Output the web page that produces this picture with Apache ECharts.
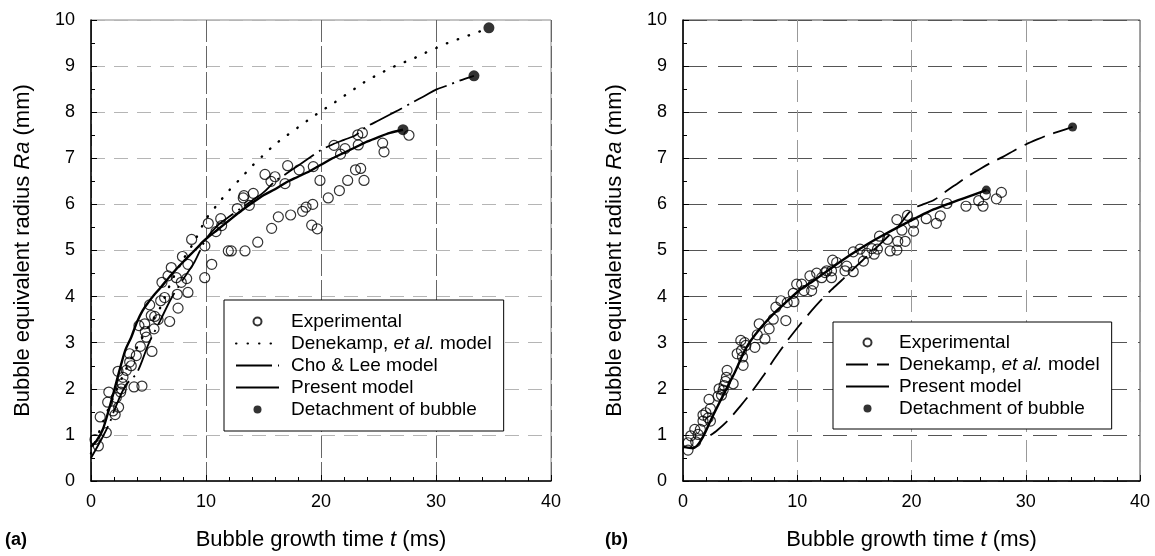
<!DOCTYPE html>
<html>
<head>
<meta charset="utf-8">
<script src="https://cdn.jsdelivr.net/npm/echarts@6/dist/echarts.min.js"></script>
<style>
  html, body { margin:0; padding:0; background:#fff; }
  #wrap { position:relative; width:1155px; height:556px; }
  #ca { position:absolute; left:0; top:0; width:577px; height:556px; }
  #cb { position:absolute; left:577px; top:0; width:578px; height:556px; }
</style>
</head>
<body>
<div id="wrap"><div id="ca"></div><div id="cb"></div></div>
<script>
// ---------------- DATA ----------------
var xTicks = [0, 10, 20, 30, 40];
var yTicks = [0, 1, 2, 3, 4, 5, 6, 7, 8, 9, 10];

// Panel (a)
var expA = [[0.35,0.9],[0.64,0.76],[1.33,1.05],[0.8,1.39],[1.45,1.71],[1.55,1.93],[1.91,1.52],[2.1,1.44],[2.2,1.81],[2.4,1.6],
  [2.35,2.38],[2.58,1.93],[2.64,2.0],[2.72,2.11],[2.78,2.25],[3.07,2.4],[3.36,2.58],[3.5,2.5],[3.36,2.76],[3.94,2.72],
  [4.29,2.92],[3.74,2.04],[4.43,2.06],[4.17,3.37],[4.67,3.41],[4.72,3.24],[4.81,3.12],[5.3,2.81],[5.1,3.82],[5.24,3.59],
  [5.54,3.57],[5.48,3.3],[5.83,3.5],[6.06,3.91],[6.4,3.98],[6.84,3.46],[6.17,4.31],[6.7,4.45],[6.98,4.63],[7.42,4.41],
  [7.5,4.05],[7.57,3.75],[7.85,4.31],[8.32,4.39],[8.43,4.09],[7.95,4.87],[8.43,4.7],[8.75,5.24],[9.89,4.41],[10.5,4.7],
  [9.9,5.1],[10.2,5.59],[10.87,5.41],[11.28,5.69],[11.36,5.54],[11.94,4.99],[12.2,4.99],[13.39,4.99],[12.72,5.91],[13.24,6.14],
  [13.3,6.19],[13.77,5.98],[14.11,6.24],[14.5,5.18],[15.13,6.65],[15.65,6.5],[16.0,6.6],[15.71,5.48],[16.29,5.73],[16.87,6.45],
  [17.1,6.84],[17.36,5.77],[18.1,6.75],[18.4,5.85],[18.7,5.94],[19.28,6.0],[19.33,6.82],[19.19,5.55],[19.68,5.47],[19.91,6.52],
  [20.63,6.14],[21.13,7.28],[21.6,6.3],[22.09,7.21],[21.7,7.09],[22.32,6.52],[23.0,6.75],[23.45,6.78],[23.24,7.29],[23.2,7.51],
  [23.6,7.55],[23.74,6.52],[25.36,7.33],[25.48,7.14],[27.65,7.5]];
var denekampA = [[0,0.6],[1,1.25],[2,1.85],[3,2.4],[4,2.9],[5,3.35],[6,3.75],[7,4.33],[8,4.8],[9,5.2],[10,5.68],[11,6.0],
  [12,6.3],[13,6.56],[14,6.83],[15,7.07],[16,7.3],[17,7.49],[18,7.67],[19,7.85],[20,8.02],[21,8.18],[22,8.35],[23,8.52],
  [24,8.69],[25,8.82],[26,8.95],[27,9.06],[28,9.16],[29,9.28],[30,9.39],[31,9.5],[32,9.59],[33,9.68],[34,9.77],[34.6,9.83]];
var choLeeA = [[0,0.5],[1,0.95],[1.65,1.28],[2,1.52],[3,2.07],[4,2.35],[5,2.97],[6,3.47],[7,3.97],[8,4.37],[9,4.75],[10,5.25],
  [11,5.54],[12,5.73],[13,5.91],[14,6.08],[15,6.26],[16,6.5],[17,6.67],[18,6.84],[19,7.01],[20,7.18],[21,7.3],[22,7.4],
  [23,7.5],[24,7.69],[25,7.82],[26,7.95],[27,8.08],[28,8.22],[29,8.35],[30,8.49],[31,8.58],[32,8.68],[33.3,8.79]];
var presentA = [[0,0.74],[0.5,0.88],[1,1.1],[1.5,1.5],[2,1.95],[2.5,2.42],[3,2.85],[3.5,3.12],[4,3.45],[4.5,3.7],[5,3.88],
  [5.5,4.04],[6,4.18],[7,4.48],[8,4.75],[9,5.0],[10,5.25],[11,5.45],[12,5.65],[13,5.85],[14,6.03],[15,6.2],[16,6.33],
  [17,6.48],[18,6.6],[19,6.72],[20,6.86],[21,7.0],[22,7.12],[23,7.24],[24,7.36],[25,7.46],[26,7.55],[27.13,7.62]];
var detachA = [[27.13,7.62],[33.3,8.79],[34.6,9.83]];

// Panel (b)
var expB = [[0.44,0.67],[0.44,0.83],[0.68,0.98],[1.11,0.85],[1.03,1.12],[1.32,1.01],[1.52,1.12],[1.75,1.3],[1.75,1.43],[2.0,1.48],
  [2.2,1.37],[2.28,1.77],[2.4,1.57],[2.4,1.3],[3.07,1.84],[3.16,2.0],[3.37,1.86],[3.51,1.97],[3.6,2.07],[3.72,2.16],
  [3.8,2.25],[3.86,2.4],[4.39,2.11],[4.74,2.76],[5.12,2.83],[5.06,3.05],[5.21,2.69],[5.26,2.51],[5.5,2.94],[5.4,3.0],
  [6.29,2.9],[6.5,3.17],[6.67,3.41],[7.17,3.08],[7.54,3.3],[7.9,3.51],[8.13,3.77],[8.57,3.91],[9.0,3.48],[9.12,3.87],
  [9.71,3.89],[9.65,4.07],[9.95,4.27],[10.39,4.27],[10.59,4.13],[11.11,4.45],[11.26,4.13],[11.4,4.27],[11.7,4.51],[12.14,4.41],
  [12.43,4.52],[12.58,4.56],[13.0,4.41],[13.0,4.56],[13.1,4.79],[13.45,4.74],[14.18,4.56],[14.33,4.66],[14.9,4.54],[14.9,4.97],
  [15.5,5.03],[15.79,4.77],[16.09,4.94],[16.53,5.04],[16.73,4.92],[17.02,5.03],[17.2,5.31],[17.9,5.24],[18.13,4.99],[18.72,5.01],
  [18.8,5.2],[19.45,5.2],[19.16,5.44],[18.72,5.67],[19.65,5.76],[20.18,5.6],[20.18,5.42],[21.29,5.69],[22.17,5.59],[22.52,5.75],
  [23.1,6.02],[24.77,5.96],[25.88,6.08],[26.26,5.96],[26.46,6.21],[27.43,6.12],[27.87,6.26]];
var denekampB = [[2.4,0.99],[3,1.1],[4,1.33],[5,1.62],[6,1.93],[7,2.27],[8,2.65],[9,3.0],[10,3.32],[11,3.62],[12,3.9],
  [13,4.15],[14,4.38],[15,4.62],[16,4.85],[17,5.08],[18,5.32],[19,5.57],[19.7,5.8],[20.3,5.93],[21,6.0],[22,6.1],[23,6.28],
  [24,6.45],[25,6.62],[26,6.77],[27,6.91],[28,7.03],[29,7.17],[30,7.3],[31,7.41],[32,7.51],[33,7.59],[34.1,7.68]];
var presentB = [[0,0.74],[0.88,0.71],[1.6,0.89],[2.49,1.35],[3.51,1.86],[4.54,2.36],[5.56,2.9],[6.73,3.3],[7.9,3.62],
  [9.07,3.89],[10.24,4.15],[11.4,4.34],[12.87,4.6],[14.5,4.88],[16.09,5.13],[17.5,5.33],[19.0,5.53],[20.5,5.72],[21.93,5.89],
  [23.4,6.03],[24.86,6.16],[26.55,6.31]];
var detachB = [[26.55,6.31],[34.1,7.68]];

var xTitle = 'Bubble growth time {i|t} (ms)';
var yTitle = 'Bubble equivalent radius {i|Ra} (mm)';

// ---------------- STYLE / BUILD ----------------
var FONT = '"Liberation Sans", Arial, sans-serif';

function axisCommon(cfg, isX) {
  return {
    type: 'value',
    min: isX ? xTicks[0] : yTicks[0],
    max: isX ? xTicks[xTicks.length - 1] : yTicks[yTicks.length - 1],
    interval: isX ? (xTicks[1] - xTicks[0]) : (yTicks[1] - yTicks[0]),
    axisLine: { show: true, onZero: false, lineStyle: { color: '#000', width: 1.5 } },
    axisTick: { show: true, inside: true, length: 6, lineStyle: { color: '#000', width: 1 } },
    minorTick: { show: true, splitNumber: isX ? 5 : 2, length: 4, lineStyle: { color: '#000', width: 1 } },
    axisLabel: { margin: isX ? 12 : 16, fontSize: 18, color: '#000', fontFamily: FONT },
    splitLine: { show: true, lineStyle: isX ? cfg.vGrid : cfg.hGrid },
    name: isX ? xTitle : yTitle,
    nameLocation: 'middle',
    nameGap: isX ? 48 : 57,
    nameRotate: isX ? 0 : 90,
    nameTextStyle: {
      fontSize: 22, color: '#000', fontFamily: FONT,
      rich: { i: { fontSize: 22, fontStyle: 'italic', color: '#000', fontFamily: FONT } }
    }
  };
}

function legendFormatter(name) {
  if (name.indexOf('et al.') >= 0) {
    return '{a|Denekamp, }{i|et al.}{b| model}';
  }
  return '{a|' + name + '}';
}

function build(cfg) {
  var series = [
    { name: 'Experimental', type: 'scatter', data: cfg.exp, symbol: 'circle', symbolSize: 10, z: 3,
      itemStyle: { color: 'rgba(255,255,255,0)', borderColor: '#000', borderWidth: 1.2 } }
  ];
  cfg.lines.forEach(function (l) {
    series.push({ name: l.name, type: 'line', data: l.data, symbol: 'none', smooth: 0.3, z: 4,
      itemStyle: { color: '#000' },
      lineStyle: { color: '#000', width: l.width, type: l.type, cap: l.cap || 'butt' } });
  });
  series.push({ name: 'Detachment of bubble', type: 'scatter', data: cfg.det, symbol: 'circle', symbolSize: cfg.detSize, z: 5,
    itemStyle: { color: '#000', borderWidth: 0 } });

  var legendData = [{ name: 'Experimental' }];
  cfg.lines.forEach(function (l) { legendData.push({ name: l.name, itemStyle: { opacity: 0 } }); });
  legendData.push({ name: 'Detachment of bubble' });

  return {
    animation: false,
    backgroundColor: '#fff',
    grid: { left: cfg.gridLeft, top: 20, width: cfg.gridWidth, height: 463, show: true,
      borderColor: cfg.border, borderWidth: 1, backgroundColor: 'transparent' },
    xAxis: axisCommon(cfg, true),
    yAxis: axisCommon(cfg, false),
    legend: {
      orient: 'vertical', left: cfg.legLeft, top: cfg.legTop,
      padding: cfg.legPad, itemWidth: 43, itemHeight: 8, itemGap: 3,
      borderColor: '#000', borderWidth: 1, backgroundColor: '#fff',
      selectedMode: false,
      data: legendData,
      formatter: legendFormatter,
      textStyle: {
        fontSize: 19, color: '#000', fontFamily: FONT,
        rich: {
          a: { fontSize: 19, color: '#000', fontFamily: FONT, padding: [0, 0, 0, cfg.textPad] },
          i: { fontSize: 19, color: '#000', fontFamily: FONT, fontStyle: 'italic' },
          b: { fontSize: 19, color: '#000', fontFamily: FONT }
        }
      }
    },
    graphic: [{ type: 'text', left: cfg.tagLeft, top: 531,
      style: { text: cfg.tag, font: 'bold 18px ' + FONT, fill: '#000' } }],
    series: series
  };
}

var chartA = echarts.init(document.getElementById('ca'), null, { renderer: 'canvas' });
chartA.setOption(build({
  gridLeft: 91, gridWidth: 460, border: '#888',
  hGrid: { color: '#b5b5b5', width: 1, type: [14, 9] },
  vGrid: { color: '#666', width: 1, type: [22, 4] },
  exp: expA, det: detachA, detSize: 11,
  lines: [
    { name: 'Denekamp, et al. model', data: denekampA, width: 2.4, type: [0.5, 11], cap: 'round' },
    { name: 'Cho & Lee model', data: choLeeA, width: 1.8, type: [36, 6, 2, 6] },
    { name: 'Present model', data: presentA, width: 2.4, type: 'solid' }
  ],
  legLeft: 224, legTop: 300, legPad: [12, 12, 12, 11], textPad: 7,
  tag: '(a)', tagLeft: 5
}));

var chartB = echarts.init(document.getElementById('cb'), null, { renderer: 'canvas' });
chartB.setOption(build({
  gridLeft: 106, gridWidth: 457, border: '#444',
  hGrid: { color: '#555', width: 1, type: [24, 11] },
  vGrid: { color: '#999', width: 1, type: [22, 8] },
  exp: expB, det: detachB, detSize: 9,
  lines: [
    { name: 'Denekamp, et al. model', data: denekampB, width: 1.8, type: [22, 9] },
    { name: 'Present model', data: presentB, width: 2.4, type: 'solid' }
  ],
  legLeft: 256, legTop: 322, legPad: [11, 12, 11, 12], textPad: 5,
  tag: '(b)', tagLeft: 28
}));
</script>
</body>
</html>
